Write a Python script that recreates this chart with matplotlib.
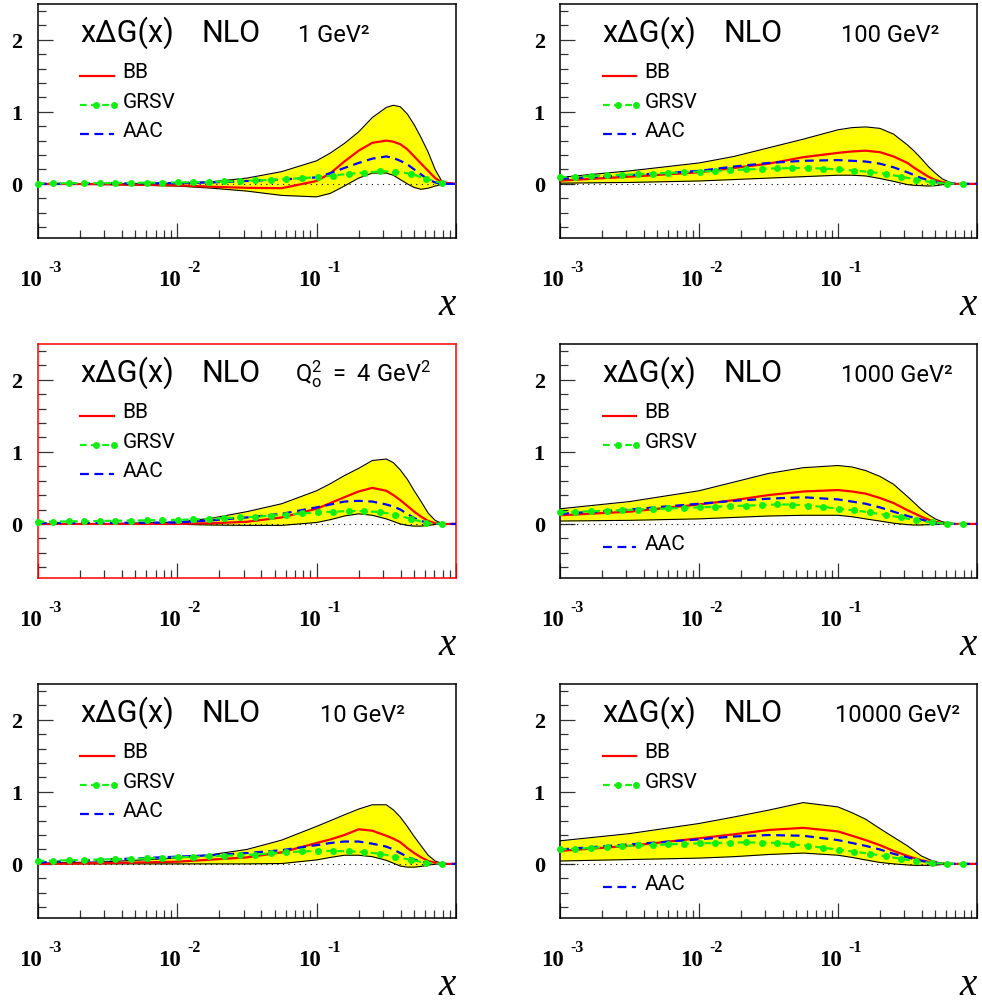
import matplotlib.pyplot as plt
from matplotlib.ticker import FixedLocator, LogLocator, NullFormatter

# x grid for the band and the BB / AAC curves
X = [0.001, 0.00316, 0.01, 0.0178, 0.0316, 0.0562, 0.1, 0.126, 0.158, 0.2, 0.251,
     0.316, 0.355, 0.398, 0.447, 0.501, 0.562, 0.631, 0.708, 0.794, 1.0]
# GRSV is drawn point by point (one marker per point)
XG = [0.001, 0.00129, 0.00167, 0.00216, 0.00279, 0.00361, 0.00467, 0.00603, 0.0078,
      0.0101, 0.013, 0.0168, 0.0218, 0.0282, 0.0364, 0.047, 0.0608, 0.0786, 0.102,
      0.131, 0.170, 0.220, 0.284, 0.367, 0.474, 0.613, 0.793]

# 1 GeV^2
UP_1 = [0.0, 0.0, 0.01, 0.03, 0.08, 0.17, 0.32, 0.43, 0.56, 0.72, 0.92, 1.06, 1.09, 1.07, 0.97, 0.82, 0.64, 0.44, 0.20, 0.03, 0.0]
LO_1 = [0.0, -0.01, -0.03, -0.06, -0.10, -0.16, -0.18, -0.13, -0.03, 0.08, 0.15, 0.15, 0.12, 0.06, 0.0, -0.05, -0.075, -0.06, -0.03, -0.005, 0.0]
BB_1 = [0.0, -0.005, -0.02, -0.04, -0.055, -0.06, 0.04, 0.15, 0.31, 0.46, 0.57, 0.60, 0.585, 0.55, 0.48, 0.38, 0.28, 0.18, 0.08, 0.02, 0.0]
AAC_1 = [0.0, 0.005, 0.01, 0.02, 0.04, 0.06, 0.09, 0.15, 0.22, 0.29, 0.35, 0.38, 0.36, 0.32, 0.27, 0.20, 0.13, 0.06, 0.02, 0.0, 0.0]
GRSV_1 = [0.005, 0.006, 0.008, 0.01, 0.011, 0.012, 0.014, 0.016, 0.018, 0.02, 0.023, 0.028, 0.033, 0.04,
          0.048, 0.056, 0.066, 0.08, 0.095, 0.115, 0.14, 0.157, 0.172, 0.17, 0.14, 0.07, 0.01]

# 100 GeV^2
UP_2 = [0.09, 0.18, 0.29, 0.38, 0.50, 0.62, 0.75, 0.78, 0.79, 0.77, 0.69, 0.54, 0.45, 0.35, 0.24, 0.15, 0.07, 0.025, 0.005, 0.0, 0.0]
LO_2 = [0.01, 0.02, 0.04, 0.06, 0.08, 0.10, 0.12, 0.12, 0.11, 0.075, 0.035, -0.01, -0.02, -0.025, -0.03, -0.025, -0.012, -0.003, 0.0, 0.0, 0.0]
BB_2 = [0.045, 0.10, 0.16, 0.22, 0.28, 0.37, 0.43, 0.45, 0.46, 0.44, 0.38, 0.29, 0.22, 0.16, 0.10, 0.055, 0.025, 0.008, 0.0, 0.0, 0.0]
AAC_2 = [0.07, 0.12, 0.18, 0.24, 0.29, 0.32, 0.33, 0.32, 0.31, 0.28, 0.23, 0.16, 0.12, 0.08, 0.05, 0.025, 0.01, 0.0, 0.0, 0.0, 0.0]
GRSV_2 = [0.093, 0.10, 0.108, 0.117, 0.125, 0.133, 0.142, 0.151, 0.16, 0.17, 0.18, 0.19, 0.20, 0.208,
          0.215, 0.22, 0.22, 0.212, 0.20, 0.185, 0.165, 0.14, 0.10, 0.058, 0.022, 0.005, 0.0]

# Q0^2 = 4 GeV^2
UP_3 = [0.0, 0.005, 0.025, 0.08, 0.17, 0.28, 0.46, 0.56, 0.67, 0.77, 0.88, 0.90, 0.85, 0.75, 0.62, 0.46, 0.31, 0.15, 0.05, 0.005, 0.0]
LO_3 = [0.0, 0.0, -0.005, -0.015, -0.02, -0.02, 0.02, 0.06, 0.11, 0.14, 0.12, 0.07, 0.035, 0.0, -0.02, -0.03, -0.03, -0.02, -0.008, 0.0, 0.0]
BB_3 = [0.0, 0.0, 0.0, 0.01, 0.03, 0.09, 0.21, 0.29, 0.37, 0.45, 0.50, 0.46, 0.40, 0.33, 0.25, 0.17, 0.10, 0.04, 0.01, 0.0, 0.0]
AAC_3 = [0.01, 0.015, 0.02, 0.05, 0.09, 0.14, 0.23, 0.27, 0.31, 0.32, 0.31, 0.27, 0.24, 0.20, 0.14, 0.08, 0.04, 0.015, 0.003, 0.0, 0.0]
GRSV_3 = [0.03, 0.032, 0.035, 0.038, 0.041, 0.044, 0.047, 0.05, 0.053, 0.057, 0.063, 0.07, 0.08, 0.09,
          0.10, 0.115, 0.13, 0.145, 0.16, 0.17, 0.178, 0.177, 0.165, 0.13, 0.07, 0.015, 0.0]

# 1000 GeV^2
UP_4 = [0.21, 0.31, 0.46, 0.58, 0.70, 0.78, 0.81, 0.79, 0.74, 0.66, 0.55, 0.38, 0.29, 0.20, 0.13, 0.07, 0.03, 0.01, 0.0, 0.0, 0.0]
LO_4 = [0.04, 0.05, 0.07, 0.09, 0.11, 0.12, 0.12, 0.10, 0.07, 0.04, 0.01, -0.01, -0.015, -0.015, -0.01, -0.005, 0.0, 0.0, 0.0, 0.0, 0.0]
BB_4 = [0.12, 0.17, 0.27, 0.33, 0.40, 0.45, 0.47, 0.45, 0.42, 0.36, 0.29, 0.19, 0.145, 0.10, 0.06, 0.03, 0.012, 0.003, 0.0, 0.0, 0.0]
AAC_4 = [0.14, 0.20, 0.28, 0.32, 0.35, 0.37, 0.34, 0.31, 0.28, 0.23, 0.17, 0.11, 0.085, 0.06, 0.035, 0.015, 0.005, 0.0, 0.0, 0.0, 0.0]
GRSV_4 = [0.16, 0.168, 0.176, 0.184, 0.192, 0.20, 0.207, 0.214, 0.222, 0.23, 0.238, 0.246, 0.254, 0.262,
          0.27, 0.268, 0.255, 0.235, 0.21, 0.188, 0.16, 0.125, 0.09, 0.05, 0.02, 0.005, 0.0]

# 10 GeV^2
UP_5 = [0.01, 0.03, 0.08, 0.13, 0.20, 0.33, 0.52, 0.60, 0.68, 0.76, 0.82, 0.82, 0.75, 0.65, 0.52, 0.38, 0.25, 0.12, 0.04, 0.005, 0.0]
LO_5 = [0.0, 0.0, 0.0, 0.0, 0.0, 0.005, 0.055, 0.09, 0.12, 0.12, 0.10, 0.05, 0.01, -0.03, -0.045, -0.045, -0.035, -0.015, -0.005, 0.0, 0.0]
BB_5 = [0.0, 0.01, 0.03, 0.06, 0.09, 0.16, 0.29, 0.34, 0.40, 0.48, 0.46, 0.39, 0.35, 0.30, 0.22, 0.15, 0.09, 0.04, 0.015, 0.0, 0.0]
AAC_5 = [0.02, 0.06, 0.10, 0.12, 0.15, 0.19, 0.26, 0.29, 0.31, 0.31, 0.28, 0.24, 0.20, 0.15, 0.10, 0.06, 0.03, 0.01, 0.0, 0.0, 0.0]
GRSV_5 = [0.04, 0.045, 0.05, 0.055, 0.06, 0.065, 0.07, 0.076, 0.083, 0.09, 0.097, 0.105, 0.113, 0.122,
          0.13, 0.145, 0.16, 0.172, 0.18, 0.18, 0.175, 0.165, 0.14, 0.10, 0.055, 0.015, 0.0]

# 10000 GeV^2
UP_6 = [0.32, 0.42, 0.56, 0.65, 0.745, 0.85, 0.79, 0.71, 0.62, 0.49, 0.37, 0.25, 0.18, 0.11, 0.065, 0.03, 0.01, 0.0, 0.0, 0.0, 0.0]
LO_6 = [0.04, 0.06, 0.08, 0.10, 0.13, 0.15, 0.12, 0.09, 0.055, 0.02, 0.0, -0.015, -0.02, -0.02, -0.02, -0.015, -0.01, -0.003, 0.0, 0.0, 0.0]
BB_6 = [0.18, 0.25, 0.355, 0.41, 0.47, 0.50, 0.45, 0.39, 0.33, 0.26, 0.18, 0.11, 0.08, 0.05, 0.03, 0.015, 0.005, 0.0, 0.0, 0.0, 0.0]
AAC_6 = [0.20, 0.27, 0.34, 0.38, 0.40, 0.39, 0.33, 0.29, 0.25, 0.20, 0.14, 0.09, 0.065, 0.04, 0.025, 0.01, 0.003, 0.0, 0.0, 0.0, 0.0]
GRSV_6 = [0.20, 0.21, 0.22, 0.235, 0.247, 0.255, 0.263, 0.27, 0.278, 0.285, 0.29, 0.295, 0.298, 0.296,
          0.29, 0.27, 0.25, 0.223, 0.195, 0.17, 0.14, 0.105, 0.07, 0.035, 0.012, 0.003, 0.0]

LABELS = ['1 GeV²', '100 GeV²', r'$\mathsf{Q_o^2\ =\ 4\ GeV^2}$', '1000 GeV²', '10 GeV²', '10000 GeV²']
LABEL_X = [0.622, 0.675, 0.615, 0.675, 0.675, 0.66]
EXPONENTS = ['-3', '-2', '-1']

plt.rcParams['mathtext.fontset'] = 'custom'
plt.rcParams['mathtext.rm'] = 'Roboto'
plt.rcParams['mathtext.sf'] = 'Roboto'
plt.rcParams['mathtext.it'] = 'Roboto'

SANS = ['Roboto', 'DejaVu Sans']
SERIF = ['Liberation Serif', 'DejaVu Serif']
GREEN = '#11ee11'


def panel(ax, up, lo, bb, grsv, aac, label, label_x, aac_low=False, red=False):
    ax.fill_between(X, lo, up, color='#ffff00', lw=0, zorder=1)
    ax.plot(X, up, color='black', lw=0.8, zorder=2)
    ax.plot(X, lo, color='black', lw=0.8, zorder=2)
    ax.axhline(0, color='black', ls=(0, (1, 4)), lw=0.8, zorder=3)
    ax.plot(X, bb, color='red', lw=1.6, zorder=4)
    ax.plot(X, aac, color='blue', lw=1.6, ls=(0, (4, 2.5)), zorder=5)
    ax.plot(XG, grsv, color=GREEN, lw=1.6, ls=(0, (3, 2)), marker='o', ms=4,
            zorder=6, clip_on=False)

    ax.set_xscale('log')
    ax.set_xlim(1e-3, 1)
    ax.set_ylim(-0.75, 2.5)

    ax.xaxis.set_major_locator(FixedLocator([1e-3, 1e-2, 1e-1, 1]))
    ax.xaxis.set_minor_locator(LogLocator(base=10, subs=range(2, 10), numticks=20))
    ax.xaxis.set_major_formatter(NullFormatter())
    ax.xaxis.set_minor_formatter(NullFormatter())
    ax.yaxis.set_major_locator(FixedLocator([0, 1, 2]))
    ax.yaxis.set_minor_locator(FixedLocator([-0.6, -0.4, -0.2, 0.2, 0.4, 0.6, 0.8,
                                             1.2, 1.4, 1.6, 1.8, 2.2, 2.4]))
    ax.set_yticklabels(['0', '1', '2'], family=SERIF, fontweight='bold', fontsize=16)
    ax.tick_params(which='both', direction='in', top=False, right=False, color='#333333', width=0.9)
    ax.tick_params(which='major', length=11)
    ax.tick_params(which='minor', length=5.5)
    ax.tick_params(axis='y', pad=11)

    for sp in ax.spines.values():
        sp.set_linewidth(1.1)
        sp.set_color('red' if red else 'black')

    tr = ax.transAxes
    # ROOT style decade labels: "10" with a raised exponent
    for i, e in enumerate(EXPONENTS):
        xa = i / 3
        ax.text(xa + 0.0096, -0.2006, '10', transform=tr, family=SERIF, fontweight='bold',
                fontsize=16.5, ha='right', va='baseline')
        ax.text(xa + 0.0246, -0.1396, e, transform=tr, family=SERIF, fontweight='bold',
                fontsize=11.5, ha='left', va='baseline')

    ax.text(0.102, 0.842, 'x\u0394G(x)', transform=tr, family=SANS, fontsize=22, va='baseline')
    ax.text(0.392, 0.842, 'NLO', transform=tr, family=SANS, fontsize=22, va='baseline')
    ax.text(label_x, 0.842, label, transform=tr, family=SANS, fontsize=17, va='baseline')

    ys = [0.693, 0.568, 0.132 if aac_low else 0.445]
    ax.plot([0.102, 0.182], [ys[0]] * 2, color='red', lw=1.6, transform=tr)
    ax.plot([0.102, 0.14, 0.182], [ys[1]] * 3, color=GREEN, lw=1.6, ls=(0, (3, 2)),
            marker='o', ms=4, markevery=[1, 2], transform=tr)
    ax.plot([0.102, 0.182], [ys[2]] * 2, color='blue', lw=1.6, ls=(0, (4, 2.5)), transform=tr)
    for y, name in zip(ys, ['BB', 'GRSV', 'AAC']):
        ax.text(0.203, y - 0.008, name, transform=tr, family=SANS, fontsize=15, va='baseline')

    ax.text(1.0, -0.325, 'x', transform=tr, family=SERIF, style='italic', fontsize=28,
            ha='right', va='baseline')


fig = plt.figure(figsize=(9.82, 10.04), dpi=100)
lefts = [0.0384, 0.5703]
widths = [0.426, 0.4246]
bottoms = [0.762, 0.4233, 0.0847]
H = 0.2334

data = [
    (UP_1, LO_1, BB_1, GRSV_1, AAC_1),
    (UP_2, LO_2, BB_2, GRSV_2, AAC_2),
    (UP_3, LO_3, BB_3, GRSV_3, AAC_3),
    (UP_4, LO_4, BB_4, GRSV_4, AAC_4),
    (UP_5, LO_5, BB_5, GRSV_5, AAC_5),
    (UP_6, LO_6, BB_6, GRSV_6, AAC_6),
]

for i, d in enumerate(data):
    row, col = divmod(i, 2)
    ax = fig.add_axes([lefts[col], bottoms[row], widths[col], H])
    panel(ax, *d, LABELS[i], LABEL_X[i], aac_low=(i in (3, 5)), red=(i == 2))

fig.savefig('out.png', dpi=100)
